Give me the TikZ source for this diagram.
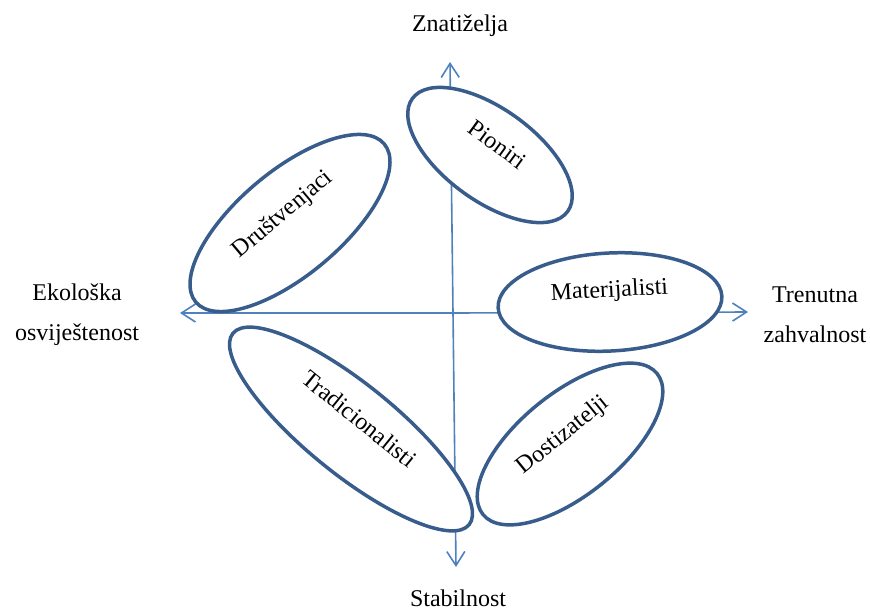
\documentclass[tikz,border=0pt]{standalone}
\usepackage{fontspec}
\setmainfont{Liberation Serif}
\usepackage{xcolor}
\usepackage{tikz}
\usetikzlibrary{shapes.geometric, arrows.meta}
\definecolor{ovalblue}{RGB}{56,93,140}
\definecolor{axisblue}{RGB}{79,129,189}
\tikzset{
  segment/.style={
    ellipse,
    draw=ovalblue,
    fill=white,
    line width=1.75pt,
    inner sep=0pt,
    text height=9pt,
    text depth=14pt,
    font=\fontsize{12}{14}\selectfont
  },
  axislabel/.style={
    align=center,
    font=\fontsize{12}{20}\selectfont
  },
  axis/.style={
    draw=axisblue,
    line width=0.8pt,
    -{Straight Barb[length=7pt,width=9pt]}
  }
}

\begin{document}
\begin{tikzpicture}[x=0.5pt, y=-0.5pt]
  \useasboundingbox (0,0) rectangle (870,610);

  % Axes
  \coordinate (O) at (453,313);
  \coordinate (N) at (450,62);
  \coordinate (S) at (456,567);
  \coordinate (W) at (180,313);
  \coordinate (E) at (748,312);
  \draw[axis] (O) -- (N);
  \draw[axis] (O) -- (S);
  \draw[axis] (O) -- (W);
  \draw[axis] (O) -- (E);

  % Axis labels
  \node (curiosity) [axislabel] at (460,26) {Znatiželja};
  \node (stability) [axislabel] at (458,598) {Stabilnost};
  \node (ecology) [axislabel] at (77,315) {Ekološka\\osviještenost};
  \node (gratitude) [axislabel] at (815,315) {Trenutna\\zahvalnost};

  % Segments
  \node (pion) [segment, rotate=-36, minimum width=96pt, minimum height=46pt] at (490,155) {Pioniri};
  \node (drus) [segment, rotate=40, minimum width=123pt, minimum height=52pt] at (290,223) {Društvenjaci};
  \node (mate) [segment, rotate=3, minimum width=112pt, minimum height=49pt] at (610,302) {Materijalisti};
  \node (trad) [segment, rotate=-39, minimum width=152pt, minimum height=45pt] at (351,429) {Tradicionalisti};
  \node (dost) [segment, rotate=39, minimum width=112pt, minimum height=51pt] at (570,444) {Dostizatelji};

\end{tikzpicture}
\end{document}
